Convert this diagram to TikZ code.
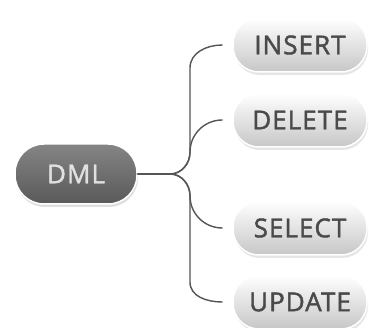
\documentclass[tikz,border=0pt]{standalone}
\usepackage{fontspec}
\newfontfamily\lblfont{Open Sans}[FakeBold=1.6,LetterSpace=4]
\usetikzlibrary{shadows}
\definecolor{linegray}{HTML}{555555}
\definecolor{textgray}{HTML}{4A4A4A}
\tikzset{
  rootbox/.style={rounded corners=29pt,minimum width=122pt,minimum height=60pt,
    top color=black!48,bottom color=black!65,draw=white,line width=1.5pt,
    text=black!12,font=\fontsize{26}{26}\lblfont,
    drop shadow={opacity=0.25,shadow xshift=1pt,shadow yshift=-3pt}},
  leafbox/.style={rounded corners=26pt,minimum width=134pt,minimum height=54pt,
    top color=white,bottom color=black!22,draw=white,line width=1.5pt,
    text=textgray,font=\fontsize{26}{26}\lblfont,
    drop shadow={opacity=0.2,shadow xshift=1pt,shadow yshift=-3pt}},
  branch/.style={draw=linegray,line width=1.4pt,line cap=round},
}
\begin{document}
\begin{tikzpicture}[x=1pt,y=1pt]
  \useasboundingbox[fill=white] (0,0) rectangle (369,-328);
  % root and leaves
  \node[rootbox] (dml) at (76,-174) {DML};
  \node[leafbox] (insert) at (300,-45) {INSERT};
  \node[leafbox] (delete) at (300,-120) {DELETE};
  \node[leafbox] (select) at (300,-228) {SELECT};
  \node[leafbox] (update) at (300,-302) {UPDATE};
  \coordinate (J) at (170,-174);
  % bracket
  \draw[branch] (dml.east) -- (J);
  \draw[branch] (J) to[out=0,in=-90] (190,-152) -- (190,-68)
    to[out=90,in=180] ([xshift=-10pt]insert.west);
  \draw[branch] (J) to[out=0,in=-90] (190,-152)
    to[out=90,in=180] ([xshift=-10pt]delete.west);
  \draw[branch] (J) to[out=0,in=90] (190,-196)
    to[out=-90,in=180] ([xshift=-10pt]select.west);
  \draw[branch] (J) to[out=0,in=90] (190,-196) -- (190,-282)
    to[out=-90,in=180] ([xshift=-10pt]update.west);
\end{tikzpicture}
\end{document}
